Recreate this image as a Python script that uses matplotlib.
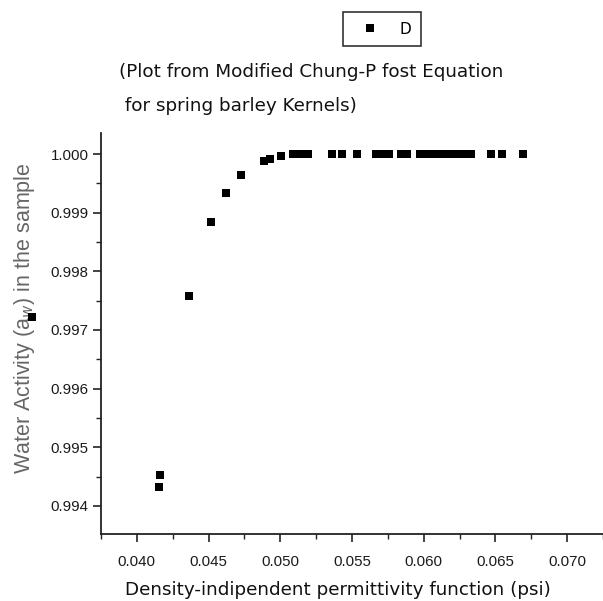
import matplotlib
matplotlib.use("Agg")
import matplotlib.pyplot as plt
from matplotlib.patches import Rectangle
from matplotlib.ticker import MultipleLocator, FormatStrFormatter

# ---- data ----
psi = [0.04154, 0.04161, 0.04364, 0.04517, 0.04622, 0.04727, 0.04888, 0.04930,
       0.05007, 0.05091, 0.05126, 0.05161, 0.05196, 0.05364, 0.05427, 0.05538,
       0.05664, 0.05706, 0.05755, 0.05839, 0.05881, 0.05972, 0.06021, 0.06070,
       0.06119, 0.06168, 0.06210, 0.06245, 0.06301, 0.06329, 0.06469, 0.06545,
       0.06692]
aw = [0.99433, 0.99453, 0.99758, 0.99884, 0.99934, 0.99964, 0.99988, 0.99991,
      0.99997, 1.00000, 1.00000, 1.00000, 1.00000, 1.00000, 1.00000, 1.00000,
      1.00000, 1.00000, 1.00000, 1.00000, 1.00000, 1.00000, 1.00000, 1.00000,
      1.00000, 1.00000, 1.00000, 1.00000, 1.00000, 1.00000, 1.00000, 1.00000,
      1.00000]
series_name = "D"
title_lines = ["(Plot from Modified Chung-P fost Equation", " for spring barley Kernels)"]
xlabel = "Density-indipendent permittivity function (psi)"
ylabel = "Water Activity (a$_w$) in the sample"

W, H = 603, 601
fig = plt.figure(figsize=(W / 100, H / 100), dpi=100)
fig.patch.set_facecolor("white")

ax = fig.add_axes([101 / W, 1 - 534 / H, (W - 101) / W, (534 - 133) / H])
ax.plot(psi, aw, linestyle="none", marker="s", markersize=5.2,
        color="black", markeredgewidth=0, label=series_name)

XMIN, XMAX = 0.0375, 0.0725
YMIN, YMAX = 0.99352, 1.00036
ax.set_xlim(XMIN, XMAX)
ax.set_ylim(YMIN, YMAX)

ax.xaxis.set_major_locator(MultipleLocator(0.005))
ax.xaxis.set_minor_locator(MultipleLocator(0.0025))
ax.yaxis.set_major_locator(MultipleLocator(0.001))
ax.yaxis.set_minor_locator(MultipleLocator(0.0005))
ax.xaxis.set_major_formatter(FormatStrFormatter("%.3f"))
ax.yaxis.set_major_formatter(FormatStrFormatter("%.3f"))

for s in ("top", "right"):
    ax.spines[s].set_visible(False)
for s in ("left", "bottom"):
    ax.spines[s].set_linewidth(1.3)
    ax.spines[s].set_color("#222222")

ax.tick_params(axis="both", which="major", direction="out", length=6,
               width=1.2, color="#222222", labelcolor="#1a1a1a", pad=3)
ax.tick_params(axis="both", which="minor", direction="out", length=3.5,
               width=1.0, color="#222222")
ax.tick_params(axis="x", pad=9)
for lab in ax.get_xticklabels() + ax.get_yticklabels():
    lab.set_fontfamily("Liberation Sans")
    lab.set_fontsize(10.8)

ax.set_xlabel(xlabel, family="DejaVu Sans", fontsize=13.2, color="#111111",
              va="center")
ax.xaxis.set_label_coords((338 - 101) / (W - 101), -(590 - 534) / (534 - 133))
ax.set_ylabel(ylabel, family="Liberation Sans", fontsize=15.5, color="#666666",
              va="center")
ax.yaxis.set_label_coords(-(101 - 25) / (W - 101), (534 - 318) / (534 - 133))

# titles
fig.text(119 / W, 1 - 72 / H, title_lines[0], family="DejaVu Sans",
         fontsize=13.2, ha="left", va="center", color="#111111")
fig.text(119 / W, 1 - 106 / H, title_lines[1], family="DejaVu Sans",
         fontsize=13.2, ha="left", va="center", color="#111111")

# legend
leg = fig.legend(handles=ax.get_lines(), labels=[series_name],
                 loc="center", bbox_to_anchor=(382 / W, 1 - 29 / H),
                 frameon=True, fancybox=False, edgecolor="black",
                 prop=dict(family="DejaVu Sans", size=11), handlelength=2.3,
                 handletextpad=0.8, borderpad=0.6, borderaxespad=0)
leg.get_frame().set_linewidth(1.2)

# the square symbol that covers the subscript in the y-axis title
sq = 8
fig.add_artist(Rectangle(((32 - sq / 2) / W, 1 - (317 + sq / 2) / H), sq / W, sq / H,
                         transform=fig.transFigure, facecolor="black",
                         edgecolor="none", zorder=5))

fig.savefig("out.png", dpi=100, facecolor="white")
